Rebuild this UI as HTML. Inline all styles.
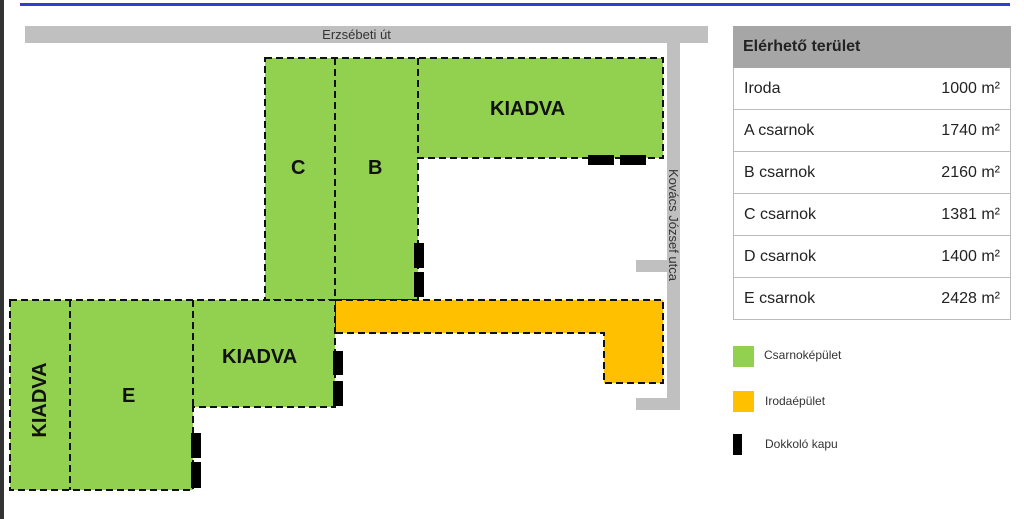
<!DOCTYPE html>
<html><head><meta charset="utf-8"><style>
body{margin:0;width:1024px;height:519px;background:#fff;position:relative;overflow:hidden;font-family:"Liberation Sans",sans-serif}
div{position:absolute;box-sizing:border-box}
.g{background:#92d050}
.o{background:#ffc000}
.k{background:#000}
.r{background:#c0c0c0}
.t{font-weight:bold;font-size:20px;color:#111}
.row{left:733px;width:278px;height:42px;border:1px solid #bbb;border-top:none;font-size:16px;color:#222;line-height:41px;padding:0 10px}
.row span{float:right}
</style></head><body>
<div style="left:0;top:0;width:4px;height:519px;background:#333"></div>
<div style="left:20px;top:3px;width:990px;height:3px;background:#2b3fd0"></div>
<div class="r" style="left:25px;top:26px;width:683px;height:17px"></div>
<div style="left:25px;top:26px;width:683px;height:17px;text-align:center;font-size:13px;line-height:17px;color:#333;padding-right:20px">Erzsébeti út</div>
<div class="r" style="left:667px;top:43px;width:13px;height:367px"></div>
<div class="r" style="left:636px;top:260px;width:31px;height:12px"></div>
<div class="r" style="left:636px;top:398px;width:44px;height:12px"></div>
<div style="left:673px;top:225px;width:0;height:0"><div style="left:-60px;top:-9px;width:120px;height:18px;transform:rotate(90deg);font-size:13px;color:#333;text-align:center;line-height:18px">Kovács József utca</div></div>
<svg style="position:absolute;left:0;top:0" width="1024" height="519">
<g stroke="#111" stroke-width="2" stroke-dasharray="7,4">
<polygon fill="#92d050" points="265,58 663,58 663,158 418,158 418,300 265,300"/>
<line x1="335" y1="58" x2="335" y2="300"/><line x1="418" y1="58" x2="418" y2="158"/>
<polygon fill="#ffc000" points="335,300 663,300 663,383 604,383 604,333 335,333"/>
<polygon fill="#92d050" points="10,300 335,300 335,407 193,407 193,490 10,490"/>
<line x1="70" y1="300" x2="70" y2="490"/><line x1="193" y1="300" x2="193" y2="407"/>
</g>
<g fill="#000">
<rect x="588" y="155" width="26" height="10"/><rect x="620" y="155" width="26" height="10"/>
<rect x="414" y="243" width="10" height="25"/><rect x="414" y="272" width="10" height="25"/>
<rect x="333" y="351" width="10" height="24"/><rect x="333" y="381" width="10" height="25"/>
<rect x="191" y="433" width="10" height="25"/><rect x="191" y="462" width="10" height="26"/>
</g>
</svg>
<div class="t" style="left:490px;top:98px">KIADVA</div>
<div class="t" style="left:291px;top:157px">C</div>
<div class="t" style="left:368px;top:157px">B</div>
<div class="t" style="left:222px;top:346px">KIADVA</div>
<div class="t" style="left:122px;top:385px">E</div>
<div style="left:41px;top:400px;width:0;height:0"><div class="t" style="left:-40px;top:-12px;width:80px;height:24px;text-align:center;transform:rotate(-90deg)">KIADVA</div></div>
<div style="left:733px;top:26px;width:278px;height:42px;background:#a6a6a6;font-weight:bold;font-size:16px;line-height:42px;padding-left:10px;color:#222">Elérhető terület</div>
<div class="row" style="top:68px">Iroda<span>1000 m²</span></div>
<div class="row" style="top:110px">A csarnok<span>1740 m²</span></div>
<div class="row" style="top:152px">B csarnok<span>2160 m²</span></div>
<div class="row" style="top:194px">C csarnok<span>1381 m²</span></div>
<div class="row" style="top:236px">D csarnok<span>1400 m²</span></div>
<div class="row" style="top:278px">E csarnok<span>2428 m²</span></div>
<div class="g" style="left:733px;top:346px;width:21px;height:21px"></div>
<div style="left:764px;top:348px;font-size:12px;color:#333">Csarnoképület</div>
<div class="o" style="left:733px;top:391px;width:21px;height:21px"></div>
<div style="left:765px;top:394px;font-size:12px;color:#333">Irodaépület</div>
<div class="k" style="left:733px;top:434px;width:9px;height:21px"></div>
<div style="left:765px;top:437px;font-size:12px;color:#333">Dokkoló kapu</div>
</body></html>
